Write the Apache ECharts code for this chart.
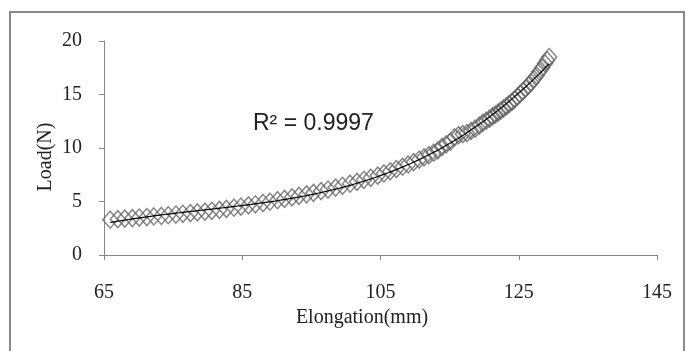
<!DOCTYPE html>
<html>
<head>
<meta charset="utf-8">
<script src="https://cdn.jsdelivr.net/npm/echarts@6/dist/echarts.min.js"></script>
<style>html,body{margin:0;padding:0;background:#fff;}#c{width:691px;height:351px;}</style>
</head>
<body>
<div id="c"></div>
<script>
// Elongation (mm)
var elongation = [65.9,67.0,68.0,69.1,70.1,71.2,72.2,73.3,74.3,75.4,76.4,77.5,78.5,79.6,80.6,81.7,82.7,83.8,84.8,85.9,86.9,88.0,89.0,90.1,91.1,92.2,93.2,94.3,95.3,96.4,97.4,98.5,99.5,100.6,101.6,102.6,103.6,104.6,105.5,106.4,107.3,108.2,109.0,109.8,
110.6,111.3,112.0,112.7,113.3,113.9,114.5,115.1,115.7,116.3,116.9,117.5,118.1,118.7,119.3,119.8,
120.3,120.8,121.2,121.6,122.0,122.4,122.8,123.2,123.6,124.0,124.4,124.8,125.2,125.6,126.0,126.4,126.8,127.2,127.6,128.0,128.4,128.8,129.1,129.4];
// Load (N)
var load = [3.3,3.35,3.4,3.45,3.5,3.55,3.6,3.65,3.72,3.78,3.85,3.92,3.98,4.05,4.13,4.22,4.31,4.42,4.53,4.64,4.74,4.86,4.98,5.12,5.24,5.38,5.52,5.67,5.81,5.97,6.12,6.3,6.47,6.66,6.84,7.03,7.22,7.42,7.62,7.82,8.03,8.25,8.46,8.68,
8.92,9.12,9.34,9.56,9.78,10.1,10.35,10.6,11.0,11.2,11.3,11.4,11.6,11.8,12.1,12.35,
12.55,12.75,12.95,13.12,13.3,13.5,13.7,13.9,14.1,14.3,14.55,14.8,15.05,15.3,15.58,15.85,16.12,16.45,16.78,17.15,17.5,17.9,18.2,18.5];
var xTicks = [65,85,105,125,145];
var yTicks = [0,5,10,15,20];
var r2Label = 'R² = 0.9997';
var xTitle = 'Elongation(mm)';
var yTitle = 'Load(N)';

// polynomial (3rd order) least-squares trendline computed from the data
function polyfit(xs, ys, deg) {
  var mx = xs.reduce(function(a,b){return a+b;},0)/xs.length;
  var sx = 20;
  var n = deg+1, A = [], i, j, k;
  for (i=0;i<n;i++){A.push([]);for(j=0;j<=n;j++)A[i].push(0);}
  for (k=0;k<xs.length;k++){
    var t=(xs[k]-mx)/sx, p=[];
    for(i=0;i<n;i++)p.push(Math.pow(t,i));
    for(i=0;i<n;i++){for(j=0;j<n;j++)A[i][j]+=p[i]*p[j];A[i][n]+=p[i]*ys[k];}
  }
  for(i=0;i<n;i++){
    var m=i;for(j=i+1;j<n;j++)if(Math.abs(A[j][i])>Math.abs(A[m][i]))m=j;
    var tmp=A[i];A[i]=A[m];A[m]=tmp;
    for(j=i+1;j<n;j++){var f=A[j][i]/A[i][i];for(k=i;k<=n;k++)A[j][k]-=f*A[i][k];}
  }
  var c=new Array(n);
  for(i=n-1;i>=0;i--){var s=A[i][n];for(j=i+1;j<n;j++)s-=A[i][j]*c[j];c[i]=s/A[i][i];}
  return function(x){var t=(x-mx)/sx,v=0;for(var q=0;q<n;q++)v+=c[q]*Math.pow(t,q);return v;};
}
var fit = polyfit(elongation, load, 3);
var trend = [];
var x0 = elongation[0], x1 = elongation[elongation.length-1];
for (var s=0;s<=120;s++){var xv=x0+(x1-x0)*s/120;trend.push([xv,fit(xv)]);}

var pts = elongation.map(function(x,i){return [x,load[i]];});
var serif = '"Liberation Serif","Times New Roman",serif';

var chart = echarts.init(document.getElementById('c'));
chart.setOption({
  backgroundColor:'#ffffff',
  animation:false,
  grid:{left:104,right:34,top:41,bottom:96,containLabel:false},
  xAxis:{type:'value',min:xTicks[0],max:xTicks[xTicks.length-1],interval:xTicks[1]-xTicks[0],
    axisLine:{lineStyle:{color:'#868686',width:1}},
    axisTick:{show:true,length:5,inside:false,lineStyle:{color:'#868686'}},
    axisLabel:{margin:28,color:'#222',fontFamily:serif,fontSize:20},
    splitLine:{show:false}},
  yAxis:{type:'value',min:yTicks[0],max:yTicks[yTicks.length-1],interval:yTicks[1]-yTicks[0],
    axisLine:{show:true,lineStyle:{color:'#868686',width:1}},
    axisTick:{show:true,length:5,lineStyle:{color:'#868686'}},
    axisLabel:{margin:22,color:'#222',fontFamily:serif,fontSize:20},
    splitLine:{show:false}},
  series:[
    {type:'scatter',data:pts,symbol:'diamond',symbolSize:[15,17],
      itemStyle:{color:'rgba(0,0,0,0)',borderColor:'#666666',borderWidth:1.5},z:2},
    {type:'line',data:trend,showSymbol:false,symbol:'none',smooth:false,
      lineStyle:{color:'#000',width:1.2},z:3}
  ],
  graphic:[
    {type:'rect',shape:{x:10,y:12,width:674,height:360},style:{fill:'none',stroke:'#8a8a8a',lineWidth:2},silent:true},
    {type:'text',x:46,y:157,rotation:Math.PI/2,style:{text:yTitle,font:'20px '+serif,fill:'#222',textAlign:'center',textVerticalAlign:'middle'}},
    {type:'text',x:362,y:318,style:{text:xTitle,font:'20px '+serif,fill:'#222',textAlign:'center',textVerticalAlign:'middle'}},
    {type:'text',x:253,y:124,style:{text:r2Label,font:'23px "Liberation Sans",Arial,sans-serif',fill:'#222',textAlign:'left',textVerticalAlign:'middle'}}
  ]
});
</script>
</body>
</html>
